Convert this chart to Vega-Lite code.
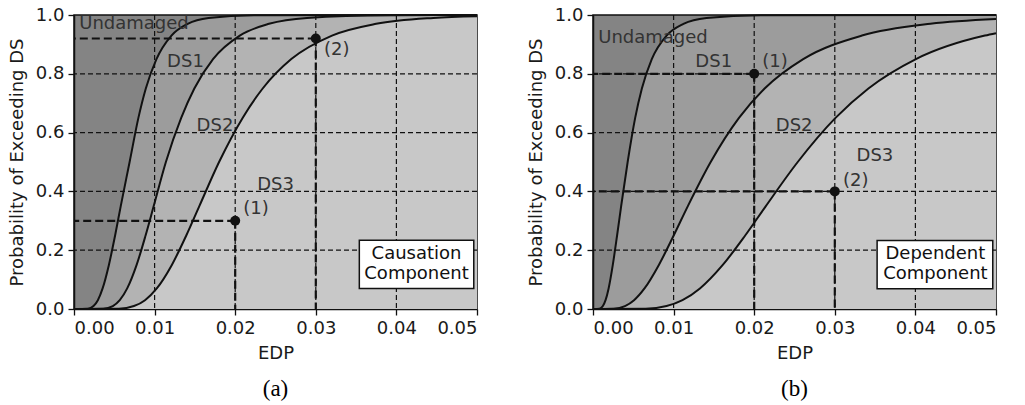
{
  "$schema": "https://vega.github.io/schema/vega-lite/v6.json",
  "padding": {"left": 7, "top": 5, "right": 5, "bottom": 2},
  "background": "white",
  "spacing": 116,
  "bounds": "flush",
  "datasets": {
    "ca": [
      {"curve":"DS1","edp":0,"p":0},{"curve":"DS1","edp":0.00172,"p":0.001},{"curve":"DS1","edp":0.00242,"p":0.01},{"curve":"DS1","edp":0.00296,"p":0.03},{"curve":"DS1","edp":0.00355,"p":0.07},{"curve":"DS1","edp":0.00433,"p":0.15},{"curve":"DS1","edp":0.0051,"p":0.25},{"curve":"DS1","edp":0.0058,"p":0.35},{"curve":"DS1","edp":0.0069,"p":0.5},{"curve":"DS1","edp":0.00799,"p":0.65},{"curve":"DS1","edp":0.00891,"p":0.75},{"curve":"DS1","edp":0.01023,"p":0.85},{"curve":"DS1","edp":0.01209,"p":0.93},{"curve":"DS1","edp":0.0141,"p":0.97},{"curve":"DS1","edp":0.0167,"p":0.99},{"curve":"DS1","edp":0.02232,"p":0.999},{"curve":"DS1","edp":0.05,"p":1},
      {"curve":"DS2","edp":0,"p":0},{"curve":"DS2","edp":0.00363,"p":0.001},{"curve":"DS2","edp":0.00482,"p":0.01},{"curve":"DS2","edp":0.00568,"p":0.03},{"curve":"DS2","edp":0.0066,"p":0.07},{"curve":"DS2","edp":0.00777,"p":0.15},{"curve":"DS2","edp":0.00888,"p":0.25},{"curve":"DS2","edp":0.00989,"p":0.35},{"curve":"DS2","edp":0.0114,"p":0.5},{"curve":"DS2","edp":0.0133,"p":0.65},{"curve":"DS2","edp":0.01493,"p":0.75},{"curve":"DS2","edp":0.01725,"p":0.85},{"curve":"DS2","edp":0.02057,"p":0.93},{"curve":"DS2","edp":0.02419,"p":0.97},{"curve":"DS2","edp":0.02891,"p":0.99},{"curve":"DS2","edp":0.03924,"p":0.999},{"curve":"DS2","edp":0.05,"p":1},
      {"curve":"DS3","edp":0,"p":0},{"curve":"DS3","edp":0.00556,"p":0.001},{"curve":"DS3","edp":0.00744,"p":0.01},{"curve":"DS3","edp":0.00881,"p":0.03},{"curve":"DS3","edp":0.01027,"p":0.07},{"curve":"DS3","edp":0.01214,"p":0.15},{"curve":"DS3","edp":0.01393,"p":0.25},{"curve":"DS3","edp":0.01555,"p":0.35},{"curve":"DS3","edp":0.018,"p":0.5},{"curve":"DS3","edp":0.02092,"p":0.65},{"curve":"DS3","edp":0.02341,"p":0.75},{"curve":"DS3","edp":0.02696,"p":0.85},{"curve":"DS3","edp":0.03201,"p":0.93},{"curve":"DS3","edp":0.03749,"p":0.97},{"curve":"DS3","edp":0.04459,"p":0.99},{"curve":"DS3","edp":0.05,"p":0.9956}
    ],
    "cb": [
      {"curve":"DS1","edp":0,"p":0},{"curve":"DS1","edp":0.00081,"p":0.001},{"curve":"DS1","edp":0.001225,"p":0.01},{"curve":"DS1","edp":0.001557,"p":0.03},{"curve":"DS1","edp":0.001938,"p":0.07},{"curve":"DS1","edp":0.002457,"p":0.15},{"curve":"DS1","edp":0.002988,"p":0.25},{"curve":"DS1","edp":0.003493,"p":0.35},{"curve":"DS1","edp":0.0043,"p":0.5},{"curve":"DS1","edp":0.005233,"p":0.65},{"curve":"DS1","edp":0.006064,"p":0.75},{"curve":"DS1","edp":0.007294,"p":0.85},{"curve":"DS1","edp":0.009128,"p":0.93},{"curve":"DS1","edp":0.011223,"p":0.97},{"curve":"DS1","edp":0.014083,"p":0.99},{"curve":"DS1","edp":0.020791,"p":0.999},{"curve":"DS1","edp":0.05,"p":1},
      {"curve":"DS2","edp":0,"p":0},{"curve":"DS2","edp":0.002587,"p":0.001},{"curve":"DS2","edp":0.003968,"p":0.01},{"curve":"DS2","edp":0.005092,"p":0.03},{"curve":"DS2","edp":0.006389,"p":0.07},{"curve":"DS2","edp":0.008173,"p":0.15},{"curve":"DS2","edp":0.010011,"p":0.25},{"curve":"DS2","edp":0.011769,"p":0.35},{"curve":"DS2","edp":0.0146,"p":0.5},{"curve":"DS2","edp":0.018113,"p":0.65},{"curve":"DS2","edp":0.021294,"p":0.75},{"curve":"DS2","edp":0.026081,"p":0.85},{"curve":"DS2","edp":0.03337,"p":0.93},{"curve":"DS2","edp":0.041864,"p":0.97},{"curve":"DS2","edp":0.05,"p":0.986},
      {"curve":"DS3","edp":0,"p":0},{"curve":"DS3","edp":0.006523,"p":0.001},{"curve":"DS3","edp":0.009129,"p":0.01},{"curve":"DS3","edp":0.011102,"p":0.03},{"curve":"DS3","edp":0.013266,"p":0.07},{"curve":"DS3","edp":0.016101,"p":0.15},{"curve":"DS3","edp":0.018882,"p":0.25},{"curve":"DS3","edp":0.021443,"p":0.35},{"curve":"DS3","edp":0.0254,"p":0.5},{"curve":"DS3","edp":0.030089,"p":0.65},{"curve":"DS3","edp":0.034171,"p":0.75},{"curve":"DS3","edp":0.040066,"p":0.85},{"curve":"DS3","edp":0.048628,"p":0.93},{"curve":"DS3","edp":0.05,"p":0.938}
    ],
    "grx": [{"edp":0.01},{"edp":0.02},{"edp":0.03},{"edp":0.04}],
    "gry": [{"p":0.2},{"p":0.4},{"p":0.6},{"p":0.8}],
    "pa": [{"edp":0.02,"p":0.3},{"edp":0.03,"p":0.92}],
    "pb": [{"edp":0.02,"p":0.8},{"edp":0.03,"p":0.4}],
    "la": [
      {"label":"Undamaged","edp":0.00744,"p":0.971},
      {"label":"DS1","edp":0.01383,"p":0.84},
      {"label":"DS2","edp":0.01749,"p":0.621},
      {"label":"DS3","edp":0.025,"p":0.421},
      {"label":"(1)","edp":0.02258,"p":0.339},
      {"label":"(2)","edp":0.03259,"p":0.88}
    ],
    "lb": [
      {"label":"Undamaged","edp":0.00744,"p":0.923},
      {"label":"DS1","edp":0.01498,"p":0.84},
      {"label":"(1)","edp":0.02258,"p":0.84},
      {"label":"DS2","edp":0.02496,"p":0.621},
      {"label":"DS3","edp":0.03498,"p":0.522},
      {"label":"(2)","edp":0.0326,"p":0.437}
    ],
    "ba": [{"edp":0.0354,"edp2":0.0496,"p":0.07,"p2":0.234}],
    "bb": [{"edp":0.03525,"edp2":0.0496,"p":0.069,"p2":0.233}],
    "ta": [{"label":"Causation","edp":0.0425,"p":0.188},{"label":"Component","edp":0.0425,"p":0.12}],
    "tb": [{"label":"Dependent","edp":0.04248,"p":0.1875},{"label":"Component","edp":0.04248,"p":0.119}]
  },
  "hconcat": [
    {
      "width": 403, "height": 294,
      "title": {"text": "(a)"},
      "layer": [
        {"data":{"name":"ca"},"transform":[{"filter":"datum.curve === 'DS1'"}],"mark":{"type":"area","interpolate":"monotone","color":"#9c9c9c","opacity":1},
         "encoding":{"x":{"field":"edp","type":"quantitative","scale":{"domain":[0,0.05],"nice":false},"axis":{"title":"EDP","values":[0,0.01,0.02,0.03,0.04,0.05],"format":".2f"}},
                     "y":{"field":"p","type":"quantitative","scale":{"domain":[0,1],"nice":false},"axis":{"title":"Probability of Exceeding DS","values":[0,0.2,0.4,0.6,0.8,1],"format":".1f"}}}},
        {"data":{"name":"ca"},"transform":[{"filter":"datum.curve === 'DS2'"}],"mark":{"type":"area","interpolate":"monotone","color":"#b3b3b3","opacity":1},
         "encoding":{"x":{"field":"edp","type":"quantitative"},"y":{"field":"p","type":"quantitative"}}},
        {"data":{"name":"ca"},"transform":[{"filter":"datum.curve === 'DS3'"}],"mark":{"type":"area","interpolate":"monotone","color":"#c8c8c8","opacity":1},
         "encoding":{"x":{"field":"edp","type":"quantitative"},"y":{"field":"p","type":"quantitative"}}},
        {"data":{"name":"grx"},"mark":{"type":"rule","color":"#111","strokeWidth":1.2,"strokeDash":[5,3]},"encoding":{"x":{"field":"edp","type":"quantitative"}}},
        {"data":{"name":"gry"},"mark":{"type":"rule","color":"#111","strokeWidth":1.2,"strokeDash":[5,3]},"encoding":{"y":{"field":"p","type":"quantitative"}}},
        {"data":{"name":"ca"},"mark":{"type":"line","interpolate":"monotone","color":"#111","strokeWidth":2},
         "encoding":{"x":{"field":"edp","type":"quantitative"},"y":{"field":"p","type":"quantitative"},"detail":{"field":"curve"}}},
        {"data":{"name":"pa"},"mark":{"type":"rule","color":"#111","strokeWidth":2.2,"strokeDash":[8,4]},
         "encoding":{"x":{"field":"edp","type":"quantitative"},"x2":{"datum":0},"y":{"field":"p","type":"quantitative"}}},
        {"data":{"name":"pa"},"mark":{"type":"rule","color":"#111","strokeWidth":2.2,"strokeDash":[8,4]},
         "encoding":{"x":{"field":"edp","type":"quantitative"},"y":{"field":"p","type":"quantitative"},"y2":{"datum":0}}},
        {"data":{"name":"pa"},"mark":{"type":"point","filled":true,"size":100,"color":"#111","opacity":1},
         "encoding":{"x":{"field":"edp","type":"quantitative"},"y":{"field":"p","type":"quantitative"}}},
        {"data":{"name":"la"},"mark":{"type":"text","font":"DejaVu Sans","fontSize":18,"color":"#333"},
         "encoding":{"x":{"field":"edp","type":"quantitative"},"y":{"field":"p","type":"quantitative"},"text":{"field":"label"}}},
        {"data":{"name":"ba"},"mark":{"type":"rect","fill":"white","stroke":"#111","strokeWidth":1.5},
         "encoding":{"x":{"field":"edp","type":"quantitative"},"x2":{"field":"edp2"},"y":{"field":"p","type":"quantitative"},"y2":{"field":"p2"}}},
        {"data":{"name":"ta"},"mark":{"type":"text","font":"DejaVu Sans","fontSize":18,"color":"#111"},
         "encoding":{"x":{"field":"edp","type":"quantitative"},"y":{"field":"p","type":"quantitative"},"text":{"field":"label"}}}
      ]
    },
    {
      "width": 403, "height": 294,
      "title": {"text": "(b)"},
      "layer": [
        {"data":{"name":"cb"},"transform":[{"filter":"datum.curve === 'DS1'"}],"mark":{"type":"area","interpolate":"monotone","color":"#9c9c9c","opacity":1},
         "encoding":{"x":{"field":"edp","type":"quantitative","scale":{"domain":[0,0.05],"nice":false},"axis":{"title":"EDP","values":[0,0.01,0.02,0.03,0.04,0.05],"format":".2f"}},
                     "y":{"field":"p","type":"quantitative","scale":{"domain":[0,1],"nice":false},"axis":{"title":"Probability of Exceeding DS","values":[0,0.2,0.4,0.6,0.8,1],"format":".1f"}}}},
        {"data":{"name":"cb"},"transform":[{"filter":"datum.curve === 'DS2'"}],"mark":{"type":"area","interpolate":"monotone","color":"#b3b3b3","opacity":1},
         "encoding":{"x":{"field":"edp","type":"quantitative"},"y":{"field":"p","type":"quantitative"}}},
        {"data":{"name":"cb"},"transform":[{"filter":"datum.curve === 'DS3'"}],"mark":{"type":"area","interpolate":"monotone","color":"#c8c8c8","opacity":1},
         "encoding":{"x":{"field":"edp","type":"quantitative"},"y":{"field":"p","type":"quantitative"}}},
        {"data":{"name":"grx"},"mark":{"type":"rule","color":"#111","strokeWidth":1.2,"strokeDash":[5,3]},"encoding":{"x":{"field":"edp","type":"quantitative"}}},
        {"data":{"name":"gry"},"mark":{"type":"rule","color":"#111","strokeWidth":1.2,"strokeDash":[5,3]},"encoding":{"y":{"field":"p","type":"quantitative"}}},
        {"data":{"name":"cb"},"mark":{"type":"line","interpolate":"monotone","color":"#111","strokeWidth":2},
         "encoding":{"x":{"field":"edp","type":"quantitative"},"y":{"field":"p","type":"quantitative"},"detail":{"field":"curve"}}},
        {"data":{"name":"pb"},"mark":{"type":"rule","color":"#111","strokeWidth":2.2,"strokeDash":[8,4]},
         "encoding":{"x":{"field":"edp","type":"quantitative"},"x2":{"datum":0},"y":{"field":"p","type":"quantitative"}}},
        {"data":{"name":"pb"},"mark":{"type":"rule","color":"#111","strokeWidth":2.2,"strokeDash":[8,4]},
         "encoding":{"x":{"field":"edp","type":"quantitative"},"y":{"field":"p","type":"quantitative"},"y2":{"datum":0}}},
        {"data":{"name":"pb"},"mark":{"type":"point","filled":true,"size":100,"color":"#111","opacity":1},
         "encoding":{"x":{"field":"edp","type":"quantitative"},"y":{"field":"p","type":"quantitative"}}},
        {"data":{"name":"lb"},"mark":{"type":"text","font":"DejaVu Sans","fontSize":18,"color":"#333"},
         "encoding":{"x":{"field":"edp","type":"quantitative"},"y":{"field":"p","type":"quantitative"},"text":{"field":"label"}}},
        {"data":{"name":"bb"},"mark":{"type":"rect","fill":"white","stroke":"#111","strokeWidth":1.5},
         "encoding":{"x":{"field":"edp","type":"quantitative"},"x2":{"field":"edp2"},"y":{"field":"p","type":"quantitative"},"y2":{"field":"p2"}}},
        {"data":{"name":"tb"},"mark":{"type":"text","font":"DejaVu Sans","fontSize":18,"color":"#111"},
         "encoding":{"x":{"field":"edp","type":"quantitative"},"y":{"field":"p","type":"quantitative"},"text":{"field":"label"}}}
      ]
    }
  ],
  "config": {
    "view": {"fill": "#848484", "stroke": "#111", "strokeWidth": 1.5},
    "axis": {"labelFont":"DejaVu Sans","labelFontSize":18,"labelColor":"#1a1a1a","titleFont":"DejaVu Sans","titleFontSize":18,"titleFontWeight":"normal","titleColor":"#1a1a1a","domainColor":"#111","domainWidth":1.5,"tickColor":"#111","tickWidth":1.3,"tickSize":6,"labelPadding":4,"grid":false},
    "axisX": {"titlePadding": 7},
    "axisY": {"titlePadding": 9},
    "title": {"font":"Liberation Serif","fontSize":23,"fontWeight":"normal","color":"#000","orient":"bottom","offset":16}
  }
}
